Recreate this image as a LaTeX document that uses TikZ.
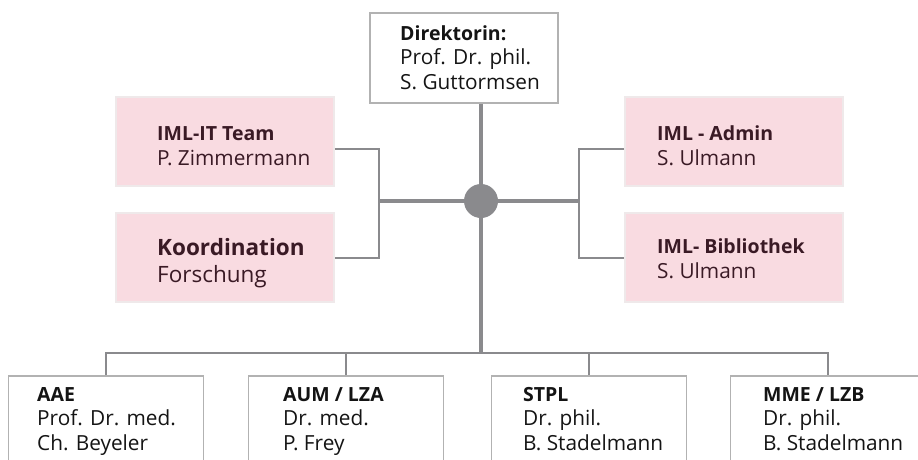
\documentclass[tikz,border=0pt]{standalone}
\usepackage{fontspec}
\setmainfont{Open Sans}
\usepackage{tikz}
\definecolor{boxpink}{HTML}{F9DBE1}
\definecolor{pinkrim}{HTML}{EFE9EA}
\definecolor{linegray}{HTML}{8A8A8D}
\definecolor{rimgray}{HTML}{B2B2B2}
\definecolor{wine}{HTML}{3A1A25}
\definecolor{ink}{HTML}{141414}
\newcommand{\unithead}[1]{{\fontsize{19.5}{24.5}\selectfont\bfseries #1}}

\begin{document}
\begin{tikzpicture}[x=1pt, y=-1pt, font=\fontsize{20.8}{24.5}\selectfont,
        unit/.style={draw=rimgray, line width=1.6pt, fill=white, minimum width=195pt, minimum height=120pt, anchor=north, inner sep=0pt},
        team/.style={draw=pinkrim, line width=1.6pt, fill=boxpink, minimum width=218pt, minimum height=89pt, inner sep=0pt},
        txt/.style={anchor=base west, align=left, inner sep=0pt, text=ink},
        pinktxt/.style={txt, text=wine},
        trunk/.style={draw=linegray, line width=4pt},
        link/.style={draw=linegray, line width=2pt}]
    \path[use as bounding box, clip] (0,0) rectangle (918,459);
    \node[draw=rimgray, line width=1.6pt, minimum width=188pt, minimum height=90pt] (dir) at (464,58) {};
    \node[team] (it)     at (225,141.5) {};
    \node[team] (koord)  at (225,257.5) {};
    \node[team] (admin)  at (734,141.5) {};
    \node[team] (bib)    at (734,257.5) {};
    \node[unit] (aae)    at (106,375) {};
    \node[unit] (aum)    at (346,375) {};
    \node[unit] (stpl)   at (589,375) {};
    \node[unit] (mme)    at (828,375) {};
    \node[circle, fill=linegray, minimum size=34pt, inner sep=0pt] (hub) at (481,201) {};
    \coordinate (lj)  at (379,201);
    \coordinate (rj)  at (579,201);
    \coordinate (bus) at (481,353);
    \draw[trunk] (dir.south -| hub) -- (hub);
    \draw[trunk] (lj) -- (hub) -- (rj);
    \draw[trunk] (hub) -- (bus);
    \draw[link] ([yshift=-7.5pt]it.east) -| (lj) |- (koord.east);
    \draw[link] ([yshift=-7.5pt]admin.west) -| (rj) |- (bib.west);
    \draw[link] (aae.north) |- (bus) -| (mme.north);
    \draw[link] (aum.north) |- (bus);
    \draw[link] (stpl.north) |- (bus);
    \node[txt] (dirtxt) at (400,89) {\unithead{Direktorin:}\\Prof. Dr. phil.\\S. Guttormsen};
    \node[pinktxt] (ittxt) at (157,165) {\unithead{IML-IT Team}\\P. Zimmermann};
    \node[pinktxt, font=\fontsize{22.5}{27}\selectfont] (koordtxt) at (157,282) {\textbf{Koordination}\\Forschung};
    \node[pinktxt] (admintxt) at (657,165) {\unithead{IML - Admin}\\S. Ulmann};
    \node[pinktxt] (bibtxt) at (657,278) {\unithead{IML- Bibliothek}\\S. Ulmann};
    \node[txt] (aaetxt)  at (37,450)  {\unithead{AAE}\\Prof. Dr. med.\\Ch. Beyeler};
    \node[txt] (aumtxt)  at (283,450) {\unithead{AUM / LZA}\\Dr. med.\\P. Frey};
    \node[txt] (stpltxt) at (523,450) {\unithead{STPL}\\Dr. phil.\\B. Stadelmann};
    \node[txt] (mmetxt)  at (763,450) {\unithead{MME / LZB}\\Dr. phil.\\B. Stadelmann};
\end{tikzpicture}
\end{document}
